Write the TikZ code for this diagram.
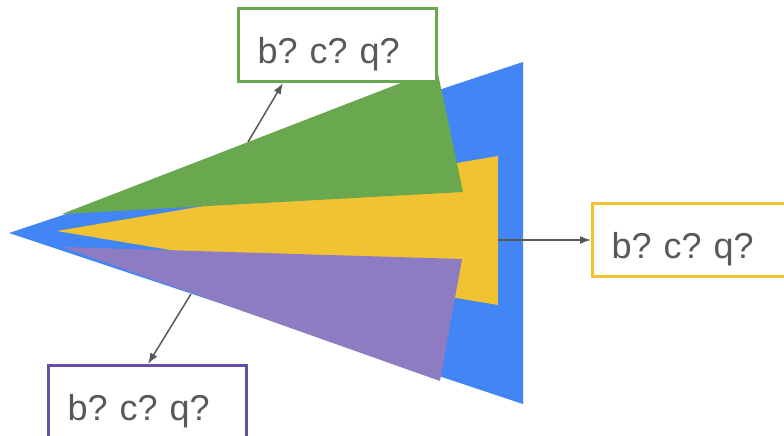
\documentclass[tikz,border=0pt]{standalone}
\usepackage{fontspec}
\setmainfont{Liberation Sans}
\usetikzlibrary{arrows.meta}
\frenchspacing
\definecolor{gblue}{HTML}{4285F4}
\definecolor{ggreen}{HTML}{6AA84F}
\definecolor{gyellow}{HTML}{F1C232}
\definecolor{gpurple}{HTML}{8E7CC3}
\definecolor{dpurple}{HTML}{674EA7}
\definecolor{tgray}{HTML}{595959}
\newcommand{\myboxfont}{\fontsize{36}{40}\selectfont\frenchspacing\fontdimen2\font=0.2em\relax}
\tikzset{
  labelbox/.style={draw, line width=3pt, fill=white, anchor=north west,
    minimum height=73pt, text width=160pt, inner xsep=19pt, inner ysep=0pt, align=left,
    text height=37pt, text depth=0pt,
    text=tgray, font=\myboxfont},
  pointer/.style={draw=tgray, line width=1.5pt, -{Latex[length=11pt,width=8pt]}}
}
\begin{document}
\begin{tikzpicture}[x=1pt,y=-1pt]
\useasboundingbox (0,0) rectangle (784,436);
\fill[gblue] (9,233) -- (523,62) -- (523,404) -- cycle;
\fill[gyellow] (57,231) -- (498,156) -- (498,305) -- cycle;
\fill[ggreen] (62,214) -- (437,69) -- (463,192) -- cycle;
\fill[gpurple] (62,247) -- (462,259) -- (440,381) -- cycle;
\node[labelbox, draw=ggreen] (gbox) at (237,7) {b? c? q?};
\node[labelbox, draw=gyellow] (ybox) at (591,202) {b? c? q?};
\node[labelbox, draw=dpurple] (pbox) at (47,364) {b? c? q?};
\coordinate (ga) at (248,142);
\coordinate (ya) at (498,240);
\coordinate (pa) at (191,294);
\draw[pointer] (ga) -- ([xshift=46pt]gbox.south west);
\draw[pointer] (ya) -- (ybox.west);
\draw[pointer] (pa) -- ([xshift=101pt]pbox.north west);
\end{tikzpicture}
\end{document}
